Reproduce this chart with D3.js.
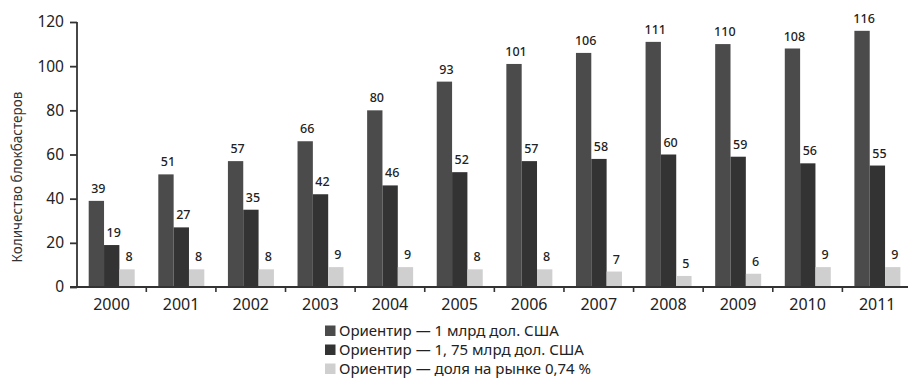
<!DOCTYPE html>
<html>
<head>
<meta charset="utf-8">
<script src="https://cdn.jsdelivr.net/npm/d3@7"></script>
<style>
  html, body { margin: 0; padding: 0; background: #fff; }
  svg { display: block; font-family: "Noto Sans", sans-serif; }
</style>
</head>
<body>
<svg id="chart" width="908" height="380"></svg>
<script>
// Number of blockbusters per year under three thresholds
const years = ["2000","2001","2002","2003","2004","2005","2006","2007","2008","2009","2010","2011"];
const seriesNames = [
  "Ориентир — 1 млрд дол. США",
  "Ориентир — 1, 75 млрд дол. США",
  "Ориентир — доля на рынке 0,74 %"
];
const billion1 = [39, 51, 57, 66, 80, 93, 101, 106, 111, 110, 108, 116];
const billion175 = [19, 27, 35, 42, 46, 52, 57, 58, 60, 59, 56, 55];
const share074 = [8, 8, 8, 9, 9, 8, 8, 7, 5, 6, 9, 9];
const yTicks = [0, 20, 40, 60, 80, 100, 120];
const yTitle = "Количество блокбастеров";
const colors = ["#4b4b4b", "#333333", "#cfcfcf"];

const seriesValues = [billion1, billion175, share074];
const rows = years.map((y, i) => ({ year: y, values: seriesValues.map(s => s[i]) }));

const svg = d3.select("#chart");
const axisColor = "#333";

const x = d3.scaleBand().domain(years).range([76.7, 912]).padding(0);
const xInner = d3.scaleBand().domain(d3.range(seriesNames.length)).range([12, 58]).padding(0);
const y = d3.scaleLinear().domain([0, 120]).range([287, 22]);

// Bars
const groups = svg.append("g").selectAll("g")
  .data(rows).join("g")
  .attr("transform", d => `translate(${x(d.year)},0)`);

groups.selectAll("rect")
  .data(d => d.values.map((v, k) => ({ v, k })))
  .join("rect")
  .attr("x", d => xInner(d.k))
  .attr("width", xInner.bandwidth())
  .attr("y", d => y(d.v))
  .attr("height", d => y(0) - y(d.v))
  .attr("fill", d => colors[d.k]);

// Value labels
groups.selectAll("text")
  .data(d => d.values.map((v, k) => ({ v, k })))
  .join("text")
  .attr("x", d => xInner(d.k) + xInner.bandwidth() / 2 + 2)
  .attr("y", d => y(d.v) - 8)
  .attr("text-anchor", "middle")
  .attr("font-size", 12.5)
  .attr("font-weight", 500)
  .attr("fill", "#222")
  .text(d => d.v);

// Y axis
const yAxis = svg.append("g")
  .attr("transform", "translate(77,0)")
  .call(d3.axisLeft(y).tickValues(yTicks).tickSize(7).tickPadding(6));
yAxis.select(".domain").attr("stroke", axisColor).attr("stroke-width", 1.8)
  .attr("d", `M0,${y(120)}V${y(0)}`);
yAxis.selectAll(".tick line").attr("stroke", axisColor).attr("stroke-width", 1.8);
yAxis.selectAll(".tick text").attr("font-size", 15.5).attr("fill", "#222")
  .attr("font-family", "Noto Sans, sans-serif");

// X axis with ticks at category boundaries
const xAxisG = svg.append("g").attr("transform", `translate(0,${y(0)})`);
xAxisG.append("line")
  .attr("x1", 70).attr("x2", 908)
  .attr("stroke", axisColor).attr("stroke-width", 1.8);
xAxisG.selectAll(".bound")
  .data(years.slice(1).concat(["end"]))
  .join("line")
  .attr("class", "bound")
  .attr("x1", (d, i) => x(years[0]) + (i + 1) * x.step())
  .attr("x2", (d, i) => x(years[0]) + (i + 1) * x.step())
  .attr("y1", 0).attr("y2", 5)
  .attr("stroke", axisColor).attr("stroke-width", 1.6);
xAxisG.selectAll(".yl")
  .data(years).join("text")
  .attr("class", "yl")
  .attr("x", d => x(d) + x.bandwidth() / 2)
  .attr("y", 23)
  .attr("text-anchor", "middle")
  .attr("font-size", 16)
  .attr("fill", "#222")
  .text(d => d);

// Y title
svg.append("text")
  .attr("transform", "translate(22,177) rotate(-90)")
  .attr("text-anchor", "middle")
  .attr("font-size", 13.5)
  .attr("fill", "#333")
  .text(yTitle);

// Legend
const legend = svg.append("g").selectAll("g")
  .data(seriesNames).join("g")
  .attr("transform", (d, i) => `translate(325,${331 + i * 19})`);
legend.append("rect")
  .attr("x", 0).attr("y", -5.5).attr("width", 10.5).attr("height", 10.5)
  .attr("fill", (d, i) => colors[i]);
legend.append("text")
  .attr("x", 14).attr("y", 5.3)
  .attr("font-size", 15)
  .attr("fill", "#222")
  .text(d => d);
</script>
</body>
</html>
